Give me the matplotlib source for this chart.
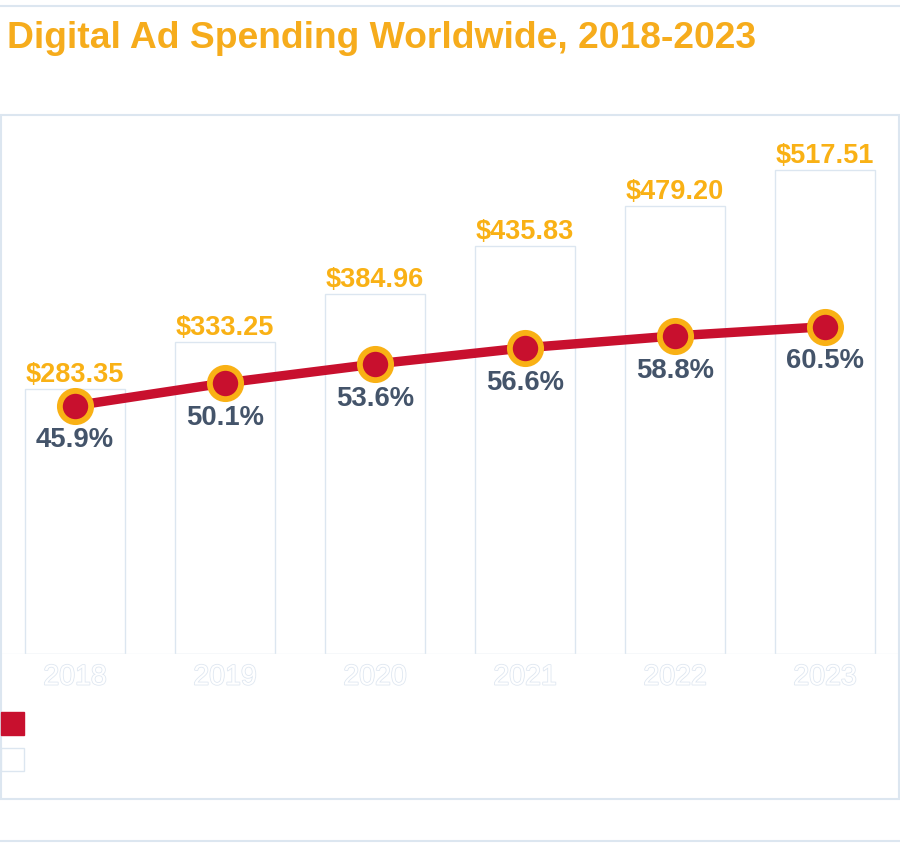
import matplotlib
matplotlib.use('Agg')
from matplotlib import pyplot as plt
from matplotlib.patches import Rectangle, Patch
from matplotlib.lines import Line2D
import matplotlib.patheffects as pe

years = ['2018', '2019', '2020', '2021', '2022', '2023']
spend = [283.35, 333.25, 384.96, 435.83, 479.20, 517.51]
share = [45.9, 50.1, 53.6, 56.6, 58.8, 60.5]
legend_labels = ['% of total media ad spending', 'Digital ad spending (billions)']

red = '#C8102E'
orange = '#F9B115'
slate = '#44546A'
edge = '#DCE6F0'

plt.rcParams['font.family'] = ['Liberation Sans', 'DejaVu Sans']

fig = plt.figure(figsize=(9, 8.44), dpi=100)
fig.patch.set_facecolor('white')

# panel frames
W, H = 900.0, 844.0
fig.add_artist(Line2D([0, 1], [1 - 5.5 / H, 1 - 5.5 / H], color=edge, lw=1.5))
fig.add_artist(Rectangle((0.5 / W, 1 - 799 / H), 898.5 / W, (799 - 114.5) / H,
                         fill=False, ec=edge, lw=1.5))
fig.add_artist(Line2D([0, 1], [1 - 840.5 / H, 1 - 840.5 / H], color=edge, lw=1.5))

fig.text(7 / W, 1 - 39 / H, 'Digital Ad Spending Worldwide, 2018-2023',
         color='#F6AC1C', fontsize=26.8, fontweight='bold', va='center', ha='left')

ax = fig.add_axes([0, 1 - 654 / H, 1, 524 / H])
ax2 = ax.twinx()
x = list(range(len(years)))

ax.bar(x, spend, width=0.667, color='white', edgecolor=edge, linewidth=1)
ax.axhline(0, color='#EEF2F6', lw=1)
ax.set_xlim(-0.5, 5.5)
ax.set_ylim(0, 560.4)
for i, v in enumerate(spend):
    ax.annotate('$%.2f' % v, (i, v), xytext=(0, 1), textcoords='offset points',
                ha='center', va='bottom', color=orange, fontsize=19.5, fontweight='bold')
    ax.annotate(years[i], (i, 0), xytext=(0, -17), textcoords='offset points',
                ha='center', va='center', color='white', fontsize=20.5,
                path_effects=[pe.withStroke(linewidth=1.2, foreground='#DFE7F1')])

ax2.plot(x, share, color=red, lw=6.8, marker='o', markersize=22.5,
         markerfacecolor=red, markeredgecolor=orange, markeredgewidth=4.2,
         solid_capstyle='butt')
ax2.set_ylim(0, 96.86)
for i, v in enumerate(share):
    ax2.annotate('%.1f%%' % v, (i, v), xytext=(0, -25), textcoords='offset points',
                 ha='center', va='center', color=slate, fontsize=19.8, fontweight='bold')

for a in (ax, ax2):
    a.set_xticks([])
    a.set_yticks([])
    for s in a.spines.values():
        s.set_visible(False)
    a.patch.set_alpha(0)

handles = [Patch(facecolor=red, edgecolor=red),
           Patch(facecolor='white', edgecolor=edge)]
leg = fig.legend(handles, legend_labels, loc='upper left',
                 bbox_to_anchor=(1 / W, 1 - 712 / H), frameon=False,
                 fontsize=13, handlelength=1.27, handleheight=1.58,
                 labelspacing=0.72, borderpad=0, borderaxespad=0, handletextpad=0.6)
for t in leg.get_texts():
    t.set_color('white')

plt.savefig('out.png', dpi=100, facecolor='white')
